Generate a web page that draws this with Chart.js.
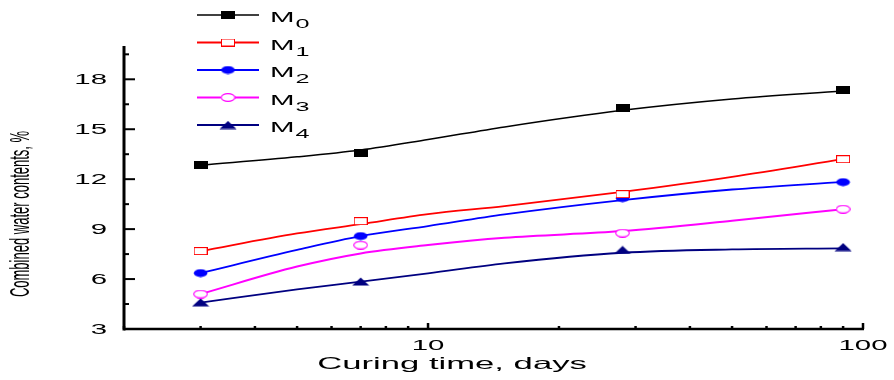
<!DOCTYPE html>
<html>
<head>
<meta charset="utf-8">
<script src="https://cdn.jsdelivr.net/npm/chart.js@4.4.1/dist/chart.umd.min.js"></script>
<style>
html, body { margin: 0; padding: 0; background: #fff; }
</style>
</head>
<body>
<canvas id="chart" width="894" height="380"></canvas>
<script>
// measured points (curing time in days)
const days = [3, 7, 28, 90];
const m0 = [12.84, 13.56, 16.3, 17.34];
const m1 = [7.68, 9.48, 11.1, 13.2];
const m2 = [6.36, 8.58, 10.86, 11.82];
const m3 = [5.1, 8.04, 8.76, 10.2];
const m4 = [4.6, 5.85, 7.75, 7.92];

// fitted curves
const curveDays = [3, 5, 7, 10, 15, 28, 50, 90];
const m0Curve = [12.84, 13.34, 13.75, 14.38, 15.14, 16.14, 16.82, 17.3];
const m1Curve = [7.68, 8.74, 9.3, 9.9, 10.38, 11.24, 12.14, 13.2];
const m2Curve = [6.36, 7.75, 8.58, 9.18, 9.88, 10.74, 11.38, 11.84];
const m3Curve = [5.1, 6.75, 7.54, 8.04, 8.48, 8.88, 9.5, 10.2];
const m4Curve = [4.58, 5.38, 5.84, 6.34, 6.94, 7.58, 7.78, 7.84];

const seriesSubs = ["0", "1", "2", "3", "4"];
const yTicks = [3, 4.5, 6, 7.5, 9, 10.5, 12, 13.5, 15, 16.5, 18, 19.5];
const yLabels = [3, 6, 9, 12, 15, 18];
const xTicks = [2, 3, 4, 5, 6, 7, 8, 9, 10, 20, 30, 40, 50, 60, 70, 80, 90, 100];
const xLabels = [10, 100];

const SX = 2.1; // the figure is stretched sideways
const FONT = '"Liberation Sans", Arial, sans-serif';

function marker(kind, color) {
  const c = document.createElement('canvas');
  const g = c.getContext('2d');
  if (kind === 'tri') {
    c.width = 18; c.height = 9;
    g.fillStyle = color;
    g.beginPath(); g.moveTo(0.5, 8.5); g.lineTo(9, 0.5); g.lineTo(17.5, 8.5); g.closePath(); g.fill();
  } else if (kind === 'sq' || kind === 'osq') {
    c.width = 14; c.height = 8;
    if (kind === 'sq') { g.fillStyle = color; g.fillRect(0, 0, 14, 8); }
    else { g.fillStyle = '#fff'; g.fillRect(0, 0, 14, 8); g.strokeStyle = color; g.lineWidth = 1; g.strokeRect(0.5, 0.5, 13, 7); }
  } else {
    c.width = 15; c.height = 9;
    g.beginPath(); g.ellipse(7.5, 4.5, 6.8, 3.9, 0, 0, Math.PI * 2);
    if (kind === 'dot') { g.fillStyle = color; g.fill(); }
    else { g.fillStyle = '#fff'; g.fill(); g.strokeStyle = color; g.lineWidth = 1.1; g.stroke(); }
  }
  return c;
}

const colors = ['#000000', '#ff0000', '#0000ff', '#ff00ff', '#000080'];
const widths = [1.5, 1.8, 1.8, 2, 1.8];
const markers = [
  marker('sq', colors[0]), marker('osq', colors[1]), marker('dot', colors[2]),
  marker('odot', colors[3]), marker('tri', colors[4])
];
const pointSets = [m0, m1, m2, m3, m4];
const curveSets = [m0Curve, m1Curve, m2Curve, m3Curve, m4Curve];

const datasets = [];
pointSets.forEach((vals, i) => {
  datasets.push({
    data: days.map((d, j) => ({ x: d, y: vals[j] })),
    showLine: false,
    pointStyle: markers[i],
    pointRadius: 5,
    order: 0
  });
});
curveSets.forEach((vals, i) => {
  datasets.push({
    data: curveDays.map((d, j) => ({ x: d, y: vals[j] })),
    showLine: true,
    borderColor: colors[i],
    borderWidth: widths[i],
    pointRadius: 0,
    cubicInterpolationMode: 'monotone',
    order: 1
  });
});

function stretched(ctx, text, x, y, align, baseline, font) {
  ctx.save();
  ctx.translate(x, y);
  ctx.scale(SX, 1);
  ctx.font = font;
  ctx.textAlign = align;
  ctx.textBaseline = baseline;
  ctx.fillText(text, 0, 0);
  ctx.restore();
}

const axesPlugin = {
  id: 'axesPlugin',
  beforeDatasetsDraw(chart) {
    const { ctx, chartArea: a, scales: { x, y } } = chart;
    ctx.save();
    ctx.strokeStyle = '#000';
    ctx.lineWidth = 3;
    ctx.beginPath(); ctx.moveTo(a.left, a.top); ctx.lineTo(a.left, a.bottom + 1.5); ctx.stroke();
    ctx.lineWidth = 2.5;
    ctx.beginPath(); ctx.moveTo(a.left, a.bottom); ctx.lineTo(a.right + 1, a.bottom); ctx.stroke();
    ctx.lineWidth = 2;
    yTicks.forEach(v => {
      const py = y.getPixelForValue(v);
      const len = yLabels.includes(v) ? 11 : 5;
      ctx.beginPath(); ctx.moveTo(a.left, py); ctx.lineTo(a.left + len, py); ctx.stroke();
    });
    ctx.lineWidth = 2.5;
    xTicks.forEach(v => {
      const px = x.getPixelForValue(v);
      const len = xLabels.includes(v) ? 6 : 3;
      ctx.beginPath(); ctx.moveTo(px, a.bottom); ctx.lineTo(px, a.bottom - len); ctx.stroke();
    });
    ctx.restore();
  },
  afterDraw(chart) {
    const { ctx, chartArea: a, scales: { x, y } } = chart;
    ctx.save();
    ctx.fillStyle = '#000';
    yLabels.forEach(v => {
      stretched(ctx, String(v), 107, y.getPixelForValue(v) + 1, 'right', 'middle', '14px ' + FONT);
    });
    xLabels.forEach(v => {
      stretched(ctx, String(v), x.getPixelForValue(v), 350, 'center', 'alphabetic', '14px ' + FONT);
    });
    stretched(ctx, 'Curing time, days', 452, 369, 'center', 'alphabetic', '16.5px ' + FONT);

    // y title
    ctx.save();
    ctx.translate(21, 214);
    ctx.rotate(-Math.PI / 2);
    ctx.scale(1, SX);
    ctx.font = '13px ' + FONT;
    ctx.textAlign = 'center';
    ctx.textBaseline = 'middle';
    ctx.fillText('Combined water contents, %', 0, 0);
    ctx.restore();

    // legend
    seriesSubs.forEach((sub, i) => {
      const ly = 15 + i * 27.5;
      ctx.strokeStyle = colors[i];
      ctx.lineWidth = widths[i];
      ctx.beginPath(); ctx.moveTo(197, ly); ctx.lineTo(259, ly); ctx.stroke();
      const m = markers[i];
      ctx.drawImage(m, 228 - m.width / 2, ly - m.height / 2);
      ctx.fillStyle = '#000';
      stretched(ctx, 'M', 270, ly + 7, 'left', 'alphabetic', '14px ' + FONT);
      ctx.font = '14px ' + FONT;
      const mw = ctx.measureText('M').width * SX;
      stretched(ctx, sub, 270 + mw + 1, ly + 13, 'left', 'alphabetic', '12px ' + FONT);
    });
    ctx.restore();
  }
};

new Chart(document.getElementById('chart'), {
  type: 'scatter',
  data: { datasets: datasets },
  options: {
    responsive: false,
    devicePixelRatio: 1,
    animation: false,
    layout: { padding: { left: 124, right: 31, top: 46, bottom: 51 } },
    scales: {
      x: { type: 'logarithmic', min: 2, max: 100, display: false },
      y: { type: 'linear', min: 3, max: 20, display: false }
    },
    plugins: { legend: { display: false }, tooltip: { enabled: false } }
  },
  plugins: [axesPlugin]
});
</script>
</body>
</html>
